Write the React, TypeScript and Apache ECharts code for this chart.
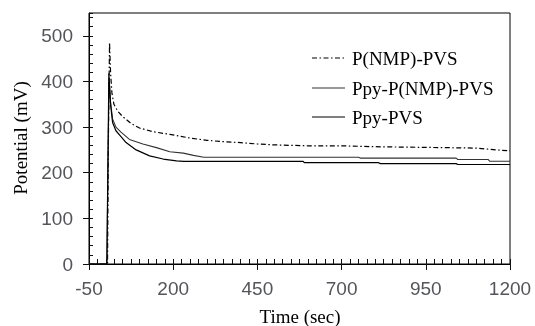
import React, { useEffect, useRef } from "react";
import * as echarts from "echarts";

// Tick labels
const xTicks = [-50, 200, 450, 700, 950, 1200];
const yTicks = [0, 100, 200, 300, 400, 500];

// Series names
const seriesNames = ["P(NMP)-PVS", "Ppy-P(NMP)-PVS", "Ppy-PVS"];

// Time (sec), Potential (mV) pairs
const pNmpPvs: [number, number][] = [
  [-50, 0], [5, 0], [8, 300], [11, 485], [14, 420], [18, 375], [24, 350],
  [35, 335], [50, 323], [75, 308], [100, 298], [140, 290], [190, 284],
  [250, 276], [300, 271], [350, 268], [400, 266], [450, 263], [500, 261],
  [600, 259], [700, 259], [800, 257], [900, 256], [1000, 255], [1100, 254],
  [1130, 252], [1160, 250], [1200, 248],
];

const ppyPNmpPvs: [number, number][] = [
  [-50, 0], [3, 0], [9.5, 408], [14, 355], [20, 318], [30, 300], [45, 289],
  [70, 273], [110, 263], [150, 255], [190, 246], [230, 243], [260, 238],
  [291, 234], [750, 234], [756, 232], [1040, 232], [1045, 229], [1135, 229],
  [1140, 225], [1200, 225],
];

const ppyPvs: [number, number][] = [
  [-50, 0], [3, 0], [9, 418], [14, 350], [20, 310], [30, 292], [45, 279],
  [60, 266], [90, 250], [130, 237], [170, 230], [210, 226], [231, 225],
  [585, 225], [590, 222], [810, 222], [815, 220], [1040, 220], [1045, 218],
  [1200, 218],
];

const DASH_DOT = [5, 2.5, 1.5, 2.5];
const SANS = "Liberation Sans";
const SERIF = "Liberation Serif";

export default function App() {
  const ref = useRef<HTMLDivElement>(null);

  useEffect(() => {
    if (!ref.current) return;
    const chart = echarts.init(ref.current, null, { renderer: "svg" });

    const baseX = { type: "value", min: -50, max: 1200, position: "bottom", splitLine: { show: false } };
    const baseY = { type: "value", min: 0, max: 550, position: "left", splitLine: { show: false } };

    const legendRows = [58, 88, 117];
    const legendStyles = [
      { stroke: "#000", lineWidth: 1.2, lineDash: DASH_DOT },
      { stroke: "#333", lineWidth: 1.1 },
      { stroke: "#000", lineWidth: 1.2 },
    ];

    const textStyle = (text: string, align: string) => ({
      text,
      font: `19px "${SERIF}"`,
      fill: "#000",
      textAlign: align,
      align,
      textVerticalAlign: "middle",
      verticalAlign: "middle",
    });

    const graphic: any[] = [];
    seriesNames.forEach((name, i) => {
      graphic.push({
        type: "line",
        shape: { x1: 312, y1: legendRows[i], x2: 345, y2: legendRows[i] },
        style: legendStyles[i],
      });
      graphic.push({ type: "text", x: 352, y: legendRows[i], style: textStyle(name, "left") });
    });
    graphic.push({ type: "text", x: 20, y: 138, rotation: Math.PI / 2, style: textStyle("Potential (mV)", "center") });
    graphic.push({ type: "text", x: 300, y: 316, style: textStyle("Time (sec)", "center") });

    const fmt = (v: number) => String(v);

    chart.setOption({
      animation: false,
      textStyle: { fontFamily: SANS, color: "#000" },
      grid: { left: 89, right: 25, top: 13, bottom: 62, show: true, borderColor: "#000", borderWidth: 1 },
      xAxis: [
        {
          ...baseX,
          interval: 25,
          axisLine: { show: true, onZero: false, lineStyle: { color: "#000" } },
          axisTick: { show: true, inside: true, length: 5, lineStyle: { color: "#111", width: 1 } },
          axisLabel: { customValues: xTicks, formatter: fmt, margin: 15, fontSize: 19 },
        },
        {
          ...baseX,
          interval: 250,
          axisLine: { show: false, onZero: false },
          axisTick: { show: true, inside: false, length: 6, lineStyle: { color: "#111", width: 1 } },
          axisLabel: { show: false },
        },
      ],
      yAxis: [
        {
          ...baseY,
          interval: 20,
          axisLine: { show: true, onZero: false, lineStyle: { color: "#000" } },
          axisTick: { show: true, inside: true, length: 4, lineStyle: { color: "#111", width: 1 } },
          axisLabel: { customValues: yTicks, formatter: fmt, margin: 16, fontSize: 19 },
        },
        {
          ...baseY,
          interval: 100,
          axisLine: { show: false, onZero: false },
          axisTick: { show: true, inside: false, length: 6, customValues: yTicks, lineStyle: { color: "#111", width: 1 } },
          axisLabel: { show: false },
        },
      ],
      series: [
        {
          name: seriesNames[0],
          type: "line",
          data: pNmpPvs,
          showSymbol: false,
          lineStyle: { color: "#000", width: 1.2, type: DASH_DOT },
        },
        {
          name: seriesNames[1],
          type: "line",
          data: ppyPNmpPvs,
          showSymbol: false,
          lineStyle: { color: "#333", width: 1.1 },
        },
        {
          name: seriesNames[2],
          type: "line",
          data: ppyPvs,
          showSymbol: false,
          lineStyle: { color: "#000", width: 1.2 },
        },
      ],
      graphic,
    });

    return () => chart.dispose();
  }, []);

  return <div ref={ref} style={{ position: "fixed", left: 0, top: 0, width: 535, height: 326 }} />;
}
